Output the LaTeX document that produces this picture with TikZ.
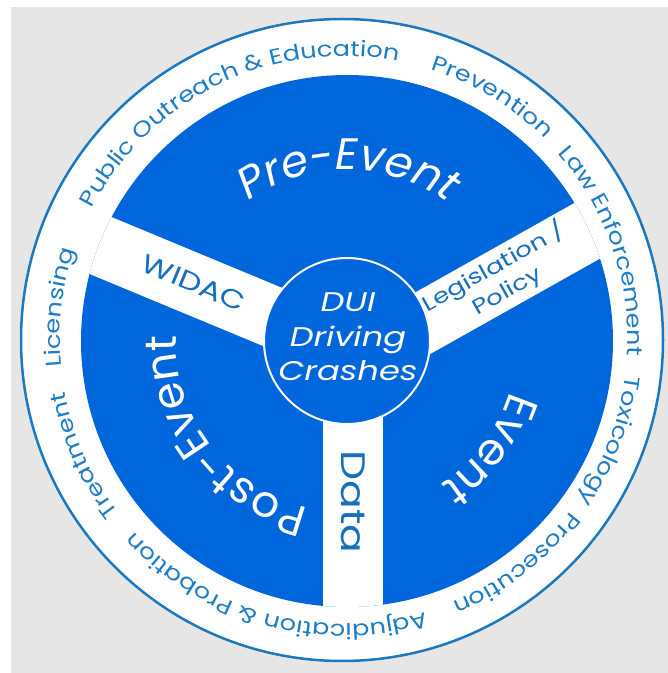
\documentclass[tikz,border=0pt]{standalone}
\usepackage{fontspec}
\setmainfont{Poppins}
\newfontfamily\wideF[FakeStretch=1.25]{Poppins}
\newfontfamily\ringFam[FakeStretch=1.19]{Poppins}
\usetikzlibrary{decorations.text}
\definecolor{wheelblue}{HTML}{0066DB}
\definecolor{labelblue}{HTML}{176FBF}
\definecolor{ringblue}{HTML}{1E7DC4}
\definecolor{rimblue}{HTML}{1C78BF}
\definecolor{bggray}{HTML}{E6E6E6}
\newcommand\ringF{\ringFam\fontsize{21.5}{24}\selectfont}
\newcommand\bigF{\fontsize{44}{52}\selectfont}
\newcommand\widacF{\wideF\fontsize{26}{30}\selectfont}
\newcommand\legF{\wideF\fontsize{21}{27}\selectfont}
\newcommand\dataF{\wideF\fontsize{34}{40}\selectfont}
\newcommand\duiF{\wideF\itshape\fontsize{27}{34.5}\selectfont}
% ring label: #1 mid angle, #2 text
\newcommand\ringlabel[2]{%
  \pgfmathsetmacro\sa{#1+70}\pgfmathsetmacro\ea{#1-70}%
  \path[shift={(344,333)},decorate,decoration={text along path,text align=center,
    text color=ringblue,text={|\ringF|#2}}] (\sa:284) arc[start angle=\sa,end angle=\ea,radius=284];}
% big sector label: #1 mid angle, #2 font extra, #3 text
\newcommand\sectorlabel[3]{%
  \pgfmathsetmacro\sa{#1+70}\pgfmathsetmacro\ea{#1-70}%
  \path[shift={(347,332)},decorate,decoration={text along path,text align=center,
    text color=white,text={|\bigF#2|#3}}] (\sa:171) arc[start angle=\sa,end angle=\ea,radius=171];}
\begin{document}
\begin{tikzpicture}[x=1pt,y=1pt,
  spoke/.style={white,line width=61},
  spoketext/.style={text=labelblue,inner sep=0pt}]
\useasboundingbox (0,0) rectangle (668,673);
\fill[white] (0,0) rectangle (668,673);
\fill[bggray] (11,0) rectangle (668,666);
% outer ring
\draw[rimblue,line width=2.5,fill=white] (342,333) circle[radius=321];
% blue wheel
\fill[wheelblue] (347,332) circle[radius=266];
\begin{scope}
  \clip (347,332) circle[radius=266];
  \coordinate (wIn) at (357,321);  \coordinate (wOut) at (15,463);
  \coordinate (lIn) at (352,310);  \coordinate (lOut) at (674,491);
  \coordinate (dIn) at (353,300);  \coordinate (dOut) at (353,0);
  \draw[spoke] (wIn) -- (wOut);
  \draw[spoke] (lIn) -- (lOut);
  \draw[line width=60,white] (dIn) -- (dOut);
\end{scope}
% hub
\node[circle,minimum size=166,inner sep=0pt,fill=wheelblue,draw=white,line width=2] (hub) at (347,332) {};
\node[align=center,text=white,font=\duiF,inner sep=0pt] (dui) at (348,336) {DUI\\Driving\\Crashes};
% spoke labels
\node[spoketext,font=\widacF,rotate=-22.6] (widac) at (194,390) {WIDAC};
\node[spoketext,font=\legF,rotate=29.3,align=center] (leg) at (500,394) {Legislation /\\Policy};
\node[spoketext,font=\dataF,rotate=-90] (data) at (353,171) {Data};
% sector labels
\sectorlabel{89.5}{\itshape}{Pre-Event}
\sectorlabel{-37}{}{Event}
\sectorlabel{-142.5}{}{Post-Event}
% ring labels
\ringlabel{115.75}{Public Outreach {\&} Education}
\ringlabel{58.6}{Prevention}
\ringlabel{19}{Law Enforcement}
\ringlabel{-20.8}{Toxicology}
\ringlabel{-52.4}{Prosecution}
\ringlabel{-105.5}{Adjudication {\&} Probation}
\ringlabel{-156}{Treatment}
\ringlabel{173.5}{Licensing}
\end{tikzpicture}
\end{document}
